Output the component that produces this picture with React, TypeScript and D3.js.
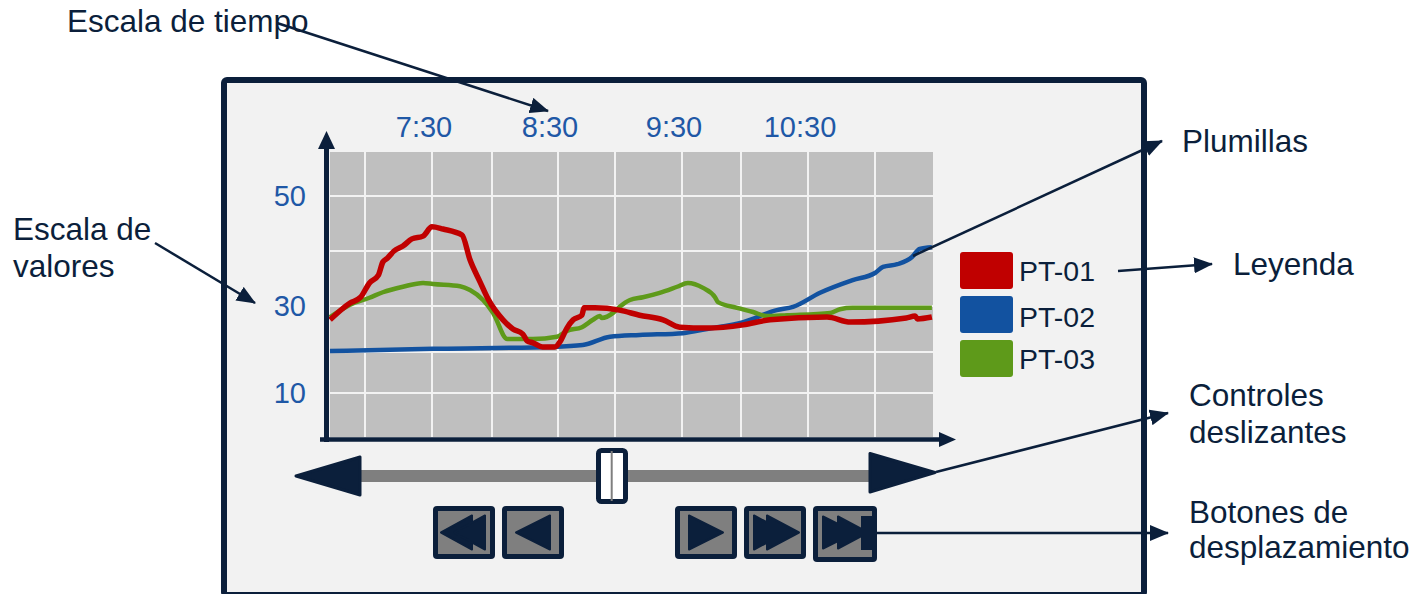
import React from 'react';
import * as d3 from 'd3';

// ---- data (time in minutes since midnight, value in units) ----
const timeLabels = ['7:30', '8:30', '9:30', '10:30'];
const timeLabelMinutes = [450, 510, 570, 630];
const gridMinutes = [420, 450, 480, 510, 540, 570, 600, 630, 660];
const valueTicks = [50, 30, 10];
const gridValues = [50, 40, 30, 20, 10];
const seriesNames = ['PT-01', 'PT-02', 'PT-03'];
const seriesColors = ['#c00000', '#1252a0', '#5e9a1a'];

const pt01: [number, number][] = [
  [404, 27.0], [413, 30.5], [418, 31.6], [422, 34.2], [426, 35.6], [428, 38.0], [430, 38.7],
  [433, 40.0], [437, 40.9], [441, 42.2], [446, 42.7], [450, 44.4], [455.5, 44.0], [465, 42.9],
  [469, 38.4], [474, 34.4], [478, 31.3], [485, 27.0], [489.5, 25.0], [494, 23.9], [496, 22.4],
  [498.6, 22.0], [503, 21.1], [508.6, 21.1], [511, 22.2], [514.7, 25.2], [518, 27.0],
  [522.6, 28.0], [523.7, 29.6], [529.5, 29.6], [542, 29.1], [551, 28.0], [561.5, 27.0],
  [569, 25.4], [582.7, 25.2], [601, 25.9], [613, 27.0], [638.5, 27.6], [649, 26.5],
  [674, 27.4], [678, 27.8], [679, 27.2], [685.5, 27.6],
];
const pt02: [number, number][] = [
  [404, 20.2], [450.5, 20.7], [507.7, 21.1], [523, 21.5], [537.4, 23.3], [551, 23.7],
  [570.5, 24.1], [582.7, 25.0], [601, 26.5], [616, 29.1], [623.3, 29.8], [635.4, 32.4],
  [650, 34.7], [660, 36.0], [663.6, 37.1], [670, 37.6], [676.6, 38.9], [680, 40.4], [685.5, 40.7],
];
const pt03: [number, number][] = [
  [404, 27.6], [413, 30.2], [422, 31.5], [428, 32.5], [437, 33.5], [446, 34.2], [450.5, 34.0],
  [464, 33.6], [469, 32.9], [475.5, 31.1], [480.5, 28.5], [487, 22.8], [498.6, 22.8],
  [509.5, 23.3], [514.7, 24.6], [522.6, 25.4], [528.4, 27.0], [532, 27.8], [533, 27.4],
  [539, 28.5], [542, 29.8], [546.7, 31.1], [552.5, 31.6], [560, 32.4], [567.8, 33.5],
  [573, 34.2], [580.7, 33.3], [586.8, 31.6], [588.3, 30.7], [598, 29.6], [605.4, 28.7],
  [611.6, 27.8], [620.6, 28.0], [640, 28.5], [644.3, 29.3], [650, 29.6], [685.5, 29.6],
];
const seriesData = [pt01, pt02, pt03];

const NAVY = '#0b1f3b';
const TICK_BLUE = '#1f58a6';
const FONT = '"Liberation Sans", Arial, sans-serif';

export default function App() {
  const x = d3.scaleLinear()
    .domain([404, 420, 450, 480, 510, 540, 570, 600, 630, 660, 686])
    .range([330, 365, 432, 492, 558, 615, 682, 741, 808, 875, 933]);
  const y = d3.scaleLinear()
    .domain([0, 10, 20, 30, 40, 50, 58])
    .range([437, 393, 352, 306, 251, 196, 152]);

  const line = d3.line<[number, number]>()
    .x(d => x(d[0]))
    .y(d => y(d[1]))
    .curve(d3.curveMonotoneX);

  const [x0, x1] = [x(404), x(686)];
  const [yTop, yBot] = [y(58), y(0)];

  const drawOrder = [1, 2, 0];
  const widths = [5.5, 4.5, 4.5];

  const arrows: [number, number, number, number][] = [
    [277, 23, 548, 111],
    [155, 243, 255, 303],
    [913, 256, 1162, 141],
    [1118, 271, 1212, 264],
    [936, 472, 1168, 413],
    [877, 533, 1168, 533],
  ];

  const annText = { fontFamily: FONT, fontSize: 31.5, fill: NAVY } as const;

  const tri = (pts: [number, number][]) => pts.map(p => p.join(',')).join(' ');
  const btnY = 506;
  const btnH = 53;
  const cy = 532.5;

  return (
    <svg width={1416} height={594} style={{ position: 'absolute', left: 0, top: 0, background: '#fff' }}>
      <defs>
        <marker id="ah" markerWidth={19} markerHeight={16} refX={18} refY={8} orient="auto" markerUnits="userSpaceOnUse">
          <path d="M0,0 L19,8 L0,16 Z" fill={NAVY} />
        </marker>
      </defs>

      {/* frame */}
      <rect x={224} y={80} width={920} height={515} rx={3} fill="#f2f2f2" stroke={NAVY} strokeWidth={6} />

      {/* plot area */}
      <rect x={x0} y={yTop} width={x1 - x0} height={yBot - yTop} fill="#bfbfbf" />
      {gridMinutes.map(m => (
        <line key={'gx' + m} x1={x(m)} x2={x(m)} y1={yTop} y2={yBot} stroke="#f2f2f2" strokeWidth={2} />
      ))}
      {gridValues.map(v => (
        <line key={'gy' + v} x1={x0} x2={x1} y1={y(v)} y2={y(v)} stroke="#f2f2f2" strokeWidth={2} />
      ))}

      {/* series */}
      {drawOrder.map(i => (
        <path key={seriesNames[i]} d={line(seriesData[i]) || ''} fill="none" stroke={seriesColors[i]}
          strokeWidth={widths[i]} strokeLinejoin="round" />
      ))}

      {/* axes */}
      <line x1={326.5} x2={326.5} y1={442} y2={142} stroke={NAVY} strokeWidth={5} />
      <polygon points={tri([[326.5, 131], [318, 149], [335, 149]])} fill={NAVY} />
      <line x1={320} x2={944} y1={439.5} y2={439.5} stroke={NAVY} strokeWidth={4.5} />
      <polygon points={tri([[956, 439.5], [939, 432], [939, 447]])} fill={NAVY} />

      {/* tick labels */}
      {timeLabels.map((t, i) => (
        <text key={t} x={x(timeLabelMinutes[i])} dx={-8} y={137} textAnchor="middle"
          fontFamily={FONT} fontSize={29} fill={TICK_BLUE}>{t}</text>
      ))}
      {valueTicks.map(v => (
        <text key={v} x={306} y={y(v) + 10} textAnchor="end" fontFamily={FONT} fontSize={29} fill={TICK_BLUE}>{v}</text>
      ))}

      {/* legend */}
      {seriesNames.map((n, i) => (
        <g key={n}>
          <rect x={960} y={252 + i * 44} width={53} height={37} rx={3} fill={seriesColors[i]} />
          <text x={1019} y={281 + i * 44 + (i === 1 ? 2 : 0)} fontFamily={FONT} fontSize={28.5} fill={NAVY}>{n}</text>
        </g>
      ))}

      {/* slider */}
      <rect x={358} y={470} width={514} height={12} fill="#7f7f7f" />
      <polygon points={tri([[296, 476], [360, 457], [360, 495]])} fill={NAVY} stroke={NAVY} strokeWidth={3} strokeLinejoin="round" />
      <polygon points={tri([[870, 453.5], [870, 492], [935, 472.5]])} fill={NAVY} stroke={NAVY} strokeWidth={3} strokeLinejoin="round" />
      <rect x={598.5} y={450.5} width={27} height={51} rx={3} fill="#fff" stroke={NAVY} strokeWidth={5} />
      <line x1={611.7} x2={611.7} y1={451} y2={501} stroke="#7f7f7f" strokeWidth={2} />

      {/* buttons */}
      {[433, 502, 675, 744, 813].map((bx, i) => (
        <g key={'b' + i}>
          <rect x={bx} y={btnY} width={i === 4 ? 64 : 62} height={i === 4 ? 56 : btnH} rx={4} fill={NAVY} />
          <rect x={bx + 5} y={btnY + 5} width={(i === 4 ? 64 : 62) - 10} height={(i === 4 ? 56 : btnH) - 10} fill="#7f7f7f" />
        </g>
      ))}
      <g fill={NAVY} stroke={NAVY} strokeWidth={2} strokeLinejoin="round">
        {/* rewind */}
        <polygon points={tri([[441, cy], [472, cy - 17], [472, cy + 17]])} />
        <polygon points={tri([[454, cy], [485, cy - 17], [485, cy + 17]])} />
        {/* step back */}
        <polygon points={tri([[516, cy], [550, cy - 17], [550, cy + 17]])} />
        {/* play */}
        <polygon points={tri([[689, cy - 17], [689, cy + 17], [723, cy]])} />
        {/* fast forward */}
        <polygon points={tri([[754, cy - 17], [754, cy + 17], [786, cy]])} />
        <polygon points={tri([[767, cy - 17], [767, cy + 17], [799, cy]])} />
        {/* to end */}
        <polygon points={tri([[823, cy - 16], [823, cy + 16], [855, cy]])} />
        <polygon points={tri([[838, cy - 16], [838, cy + 16], [868, cy]])} />
        <rect x={861} y={516} width={11} height={34} strokeWidth={0} />
      </g>

      {/* annotations */}
      {arrows.map((a, i) => (
        <line key={'a' + i} x1={a[0]} y1={a[1]} x2={a[2]} y2={a[3]} stroke={NAVY} strokeWidth={2.5} markerEnd="url(#ah)" />
      ))}
      <text x={67} y={32} {...annText}>Escala de tiempo</text>
      <text x={13} y={240} {...annText}>Escala de</text>
      <text x={13} y={277} {...annText}>valores</text>
      <text x={1182} y={152} {...annText}>Plumillas</text>
      <text x={1233} y={275} {...annText}>Leyenda</text>
      <text x={1189} y={406} {...annText}>Controles</text>
      <text x={1189} y={443} {...annText}>deslizantes</text>
      <text x={1189} y={523} {...annText}>Botones de</text>
      <text x={1189} y={558} {...annText}>desplazamiento</text>
    </svg>
  );
}
